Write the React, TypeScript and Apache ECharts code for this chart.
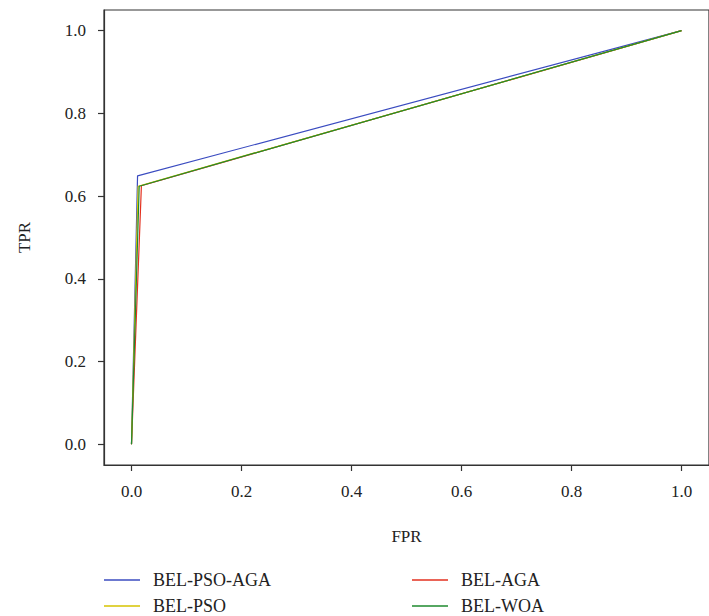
import React, { useEffect, useRef } from "react";
import * as echarts from "echarts";

const seriesNames = ["BEL-PSO-AGA", "BEL-AGA", "BEL-PSO", "BEL-WOA"];
const fprPsoAga = [0, 0.011, 1];
const tprPsoAga = [0, 0.649, 1];
const fprAga = [0, 0.018, 1];
const tprAga = [0, 0.625, 1];
const fprPso = [0, 0.012, 1];
const tprPso = [0, 0.624, 1];
const fprWoa = [0, 0.014, 1];
const tprWoa = [0, 0.624, 1];
const tickValues = [0, 0.2, 0.4, 0.6, 0.8, 1.0];
const colors = ["#3b4cc0", "#e3311f", "#d6c300", "#1e8a2e"];

const FONT = "'Liberation Serif', serif";

export default function App() {
  const ref = useRef<HTMLDivElement>(null);
  useEffect(() => {
    if (!ref.current) return;
    const chart = echarts.init(ref.current, undefined, { renderer: "svg" });
    const zip = (xs: number[], ys: number[]) => xs.map((x, i) => [x, ys[i]]);
    const data = [
      zip(fprPsoAga, tprPsoAga),
      zip(fprAga, tprAga),
      zip(fprPso, tprPso),
      zip(fprWoa, tprWoa),
    ];
    const axisCommon = {
      min: -0.05,
      max: 1.05,
      axisLine: { show: true, onZero: false, lineStyle: { color: "#333", width: 1.2 } },
      axisTick: {
        show: true,
        length: 6,
        customValues: tickValues,
        lineStyle: { color: "#333", width: 1.2 },
      },
      axisLabel: {
        customValues: tickValues,
        formatter: (v: number) => v.toFixed(1),
        fontFamily: FONT,
        fontSize: 17,
        color: "#222",
      },
      splitLine: { show: false },
      nameLocation: "middle" as const,
      nameTextStyle: { fontFamily: FONT, fontSize: 17, color: "#222" },
    };
    const legendCommon = {
      orient: "vertical" as const,
      padding: 0,
      itemWidth: 36,
      itemHeight: 1.5,
      itemGap: 8,
      icon: "rect",
      textStyle: {
        fontFamily: FONT,
        fontSize: 18,
        color: "#222",
        lineHeight: 18,
        padding: [0, 0, 0, 8],
      },
    };
    chart.setOption({
      animation: false,
      backgroundColor: "#fff",
      grid: {
        left: 104,
        top: 10,
        right: -11,
        bottom: 151,
        show: true,
        borderColor: "#333",
        borderWidth: 1.2,
      },
      xAxis: {
        type: "value",
        ...axisCommon,
        name: "FPR",
        nameGap: 63,
        axisLabel: { ...axisCommon.axisLabel, margin: 18 },
      },
      yAxis: {
        type: "value",
        ...axisCommon,
        name: "TPR",
        nameGap: 71,
        axisLabel: { ...axisCommon.axisLabel, margin: 18 },
      },
      legend: [
        { ...legendCommon, left: 104, top: 571, data: [seriesNames[0], seriesNames[2]] },
        { ...legendCommon, left: 412, top: 571, data: [seriesNames[1], seriesNames[3]] },
      ],
      series: seriesNames.map((name, i) => ({
        name,
        type: "line",
        data: data[i],
        symbol: "none",
        showSymbol: false,
        color: colors[i],
        lineStyle: { color: colors[i], width: 1.2 },
      })),
    });
    return () => chart.dispose();
  }, []);
  return (
    <div
      ref={ref}
      style={{ position: "fixed", left: 0, top: 0, width: 709, height: 616 }}
    />
  );
}
